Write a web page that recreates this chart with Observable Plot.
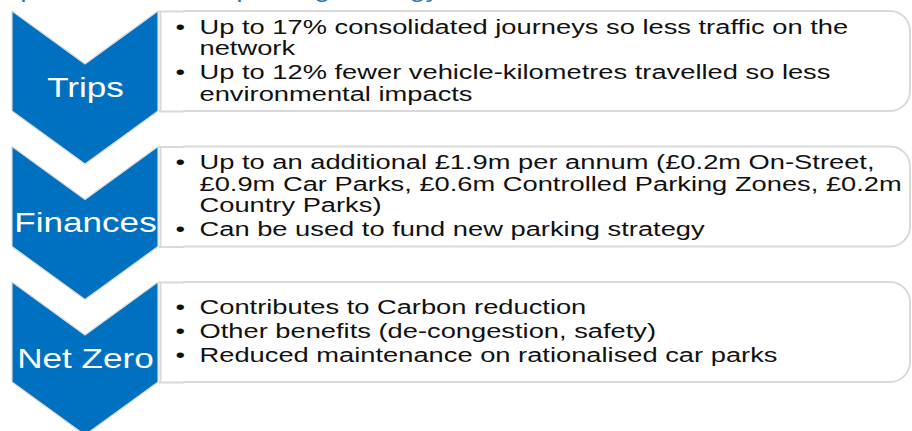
<!DOCTYPE html>
<html><head><meta charset="utf-8">
<script src="https://cdn.jsdelivr.net/npm/d3@7"></script>
<script src="https://cdn.jsdelivr.net/npm/@observablehq/plot@0.6"></script>
<style>html,body{margin:0;padding:0;background:#fff;overflow:hidden}svg{display:block}</style>
</head><body><div id="chart"></div>
<script>
// ---- data (text content only) ----
const stages = ["Trips", "Finances", "Net Zero"];
const tripsBullets = [
  ["Up to 17% consolidated journeys so less traffic on the", "network"],
  ["Up to 12% fewer vehicle-kilometres travelled so less", "environmental impacts"]
];
const financesBullets = [
  ["Up to an additional £1.9m per annum (£0.2m On-Street,", "£0.9m Car Parks, £0.6m Controlled Parking Zones, £0.2m", "Country Parks)"],
  ["Can be used to fund new parking strategy"]
];
const netZeroBullets = [
  ["Contributes to Carbon reduction"],
  ["Other benefits (de-congestion, safety)"],
  ["Reduced maintenance on rationalised car parks"]
];
const headingText = "Impacts of the new parking strategy";

// ---- layout (kept separate from data) ----
const W = 912, H = 431;
const L = {
  top0: 11, step: 135.5, stageH: 100, notch: 53,
  chevX1: 12, chevX2: 158, boxX1: 159, boxX2: 910, radius: 20,
  bulletX: 175, textX: 199, lineStep: 21.5, bulletGap: 2.5, textShift: -1,
  stretch: 1.3
};
const blue = "#0070C0", border = "#d9d9d9", ink = "#111111";
const chevMid = (L.chevX1 + L.chevX2) / 2;
const topOf = i => L.top0 + i * L.step;

const allBullets = [tripsBullets, financesBullets, netZeroBullets];

// chevron polygons as areas (top edge = notch V, bottom edge = tip V)
const chevrons = stages.flatMap((s, i) => {
  const t = topOf(i);
  return [
    {stage: s, x: L.chevX1, y1: t, y2: t + L.stageH},
    {stage: s, x: chevMid, y1: t + L.notch, y2: t + L.stageH + L.notch},
    {stage: s, x: L.chevX2, y1: t, y2: t + L.stageH}
  ];
});

const boxes = stages.map((s, i) => ({stage: s, y1: topOf(i), y2: topOf(i) + L.stageH}));

// text lines positioned by vertical centering inside each box
const lines = [];
allBullets.forEach((bul, i) => {
  const nLines = d3.sum(bul, b => b.length);
  const span = (nLines - 1) * L.lineStep + (bul.length - 1) * L.bulletGap;
  let y = topOf(i) + L.stageH / 2 - span / 2 + L.textShift;
  bul.forEach((b, bi) => {
    if (bi > 0) y += L.bulletGap;
    b.forEach((t, li) => {
      lines.push({stage: stages[i], text: t, first: li === 0, y});
      y += L.lineStep;
    });
  });
});

const svg = Plot.plot({
  width: W, height: H, margin: 0,
  x: {domain: [0, W], range: [0, W], axis: null},
  y: {domain: [0, H], range: [0, H], axis: null},
  style: {background: "white", fontFamily: "Liberation Sans, Arial, sans-serif"},
  marks: [
    // heading cut off by the top edge (only descenders peek in)
    Plot.text([headingText], {x: () => -12, y: () => -10.5, text: d => d, textAnchor: "start", lineAnchor: "middle", fontSize: 22, fill: "#2E75B6"}),
    // rounded boxes
    Plot.rect(boxes, {x1: () => L.boxX1, x2: () => L.boxX2, y1: "y1", y2: "y2", rx: L.radius, fill: "white", stroke: border, strokeWidth: 2}),
    // square off the left corners
    Plot.rect(boxes, {x1: () => L.boxX1 - 2, x2: () => L.boxX1 + L.radius + 4, y1: d => d.y1 - 2, y2: d => d.y2 + 2, fill: "white"}),
    Plot.ruleY(boxes, {y: "y1", x1: () => L.boxX1, x2: () => L.boxX1 + L.radius + 5, stroke: border, strokeWidth: 2}),
    Plot.ruleY(boxes, {y: "y2", x1: () => L.boxX1, x2: () => L.boxX1 + L.radius + 5, stroke: border, strokeWidth: 2}),
    Plot.ruleX(boxes, {x: () => L.boxX1 + 1, y1: "y1", y2: "y2", stroke: border, strokeWidth: 2}),
    // chevrons
    Plot.areaY(chevrons, {x: "x", y1: "y1", y2: "y2", z: "stage", fill: blue, stroke: border, strokeWidth: 1.2, curve: "linear"}),
    // stage labels
    Plot.text(stages, {x: () => chevMid, y: (d, i) => topOf(i) + (L.notch + L.stageH) / 2, text: d => d, textAnchor: "middle", lineAnchor: "middle", fontSize: 27, fill: "white"}),
    // bullets
    Plot.text(lines.filter(d => d.first), {x: () => L.bulletX, y: "y", text: () => "•", textAnchor: "start", lineAnchor: "middle", fontSize: 21, fill: ink}),
    // body text
    Plot.text(lines, {x: () => L.textX, y: "y", text: "text", textAnchor: "start", lineAnchor: "middle", fontSize: 21, fill: ink})
  ]
});

// the source picture is horizontally stretched: stretch glyphs about their anchor
d3.select(svg).selectAll("text").each(function() {
  const t = this.getAttribute("transform") || "";
  this.setAttribute("transform", `${t} scale(${L.stretch},1)`);
});

document.getElementById("chart").appendChild(svg);
</script>
</body></html>
